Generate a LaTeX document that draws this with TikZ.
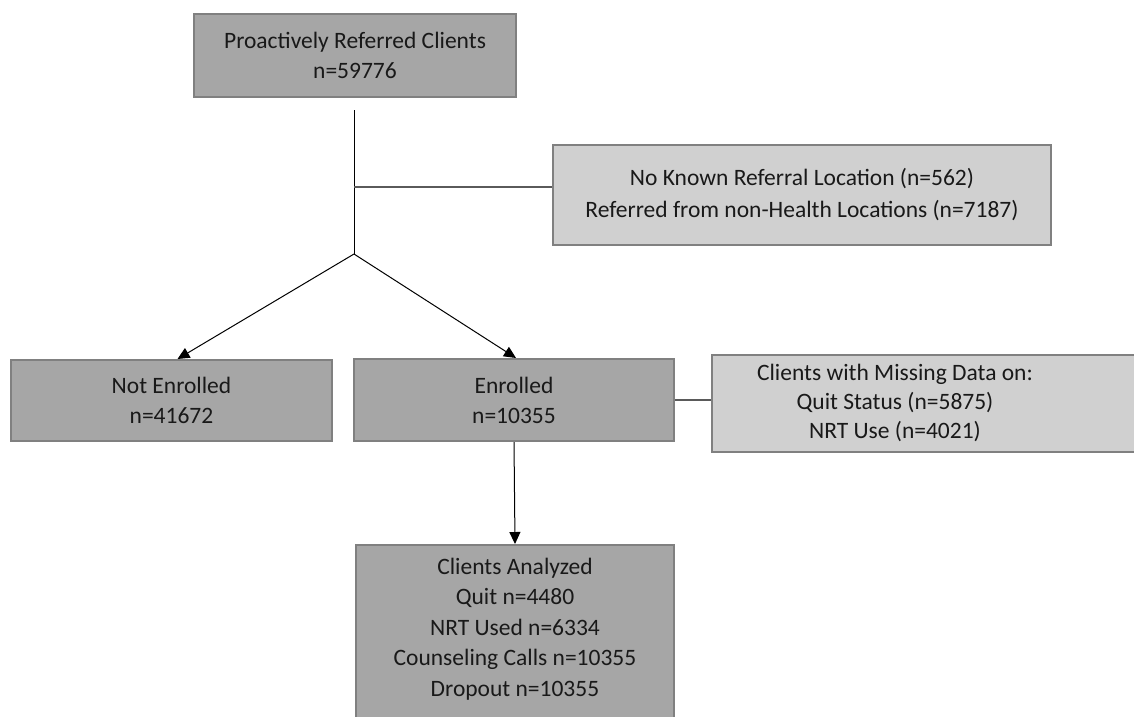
\documentclass[tikz,border=0pt]{standalone}
\usepackage{fontspec}
\setmainfont{Carlito}
\usetikzlibrary{arrows.meta,positioning}
\definecolor{boxdark}{HTML}{A6A6A6}
\definecolor{boxlight}{HTML}{D0D0D0}
\definecolor{boxedge}{HTML}{808080}
\definecolor{linkgray}{HTML}{5A5A5A}
\tikzset{>={Triangle[length=12pt,width=11pt]}}
\tikzset{
  boxtext/.style={align=center, text=black!90, font=\fontsize{23.5}{30}\selectfont},
  darkbox/.style={boxtext, draw=boxedge, line width=2pt, fill=boxdark, inner sep=0pt},
  lightbox/.style={darkbox, fill=boxlight},
  link/.style={line width=1pt, black},
  sideline/.style={line width=1.5pt, linkgray}
}

\begin{document}
\begin{tikzpicture}[x=1pt,y=-1pt]

\useasboundingbox (0,0) rectangle (1134,716);
\clip (0,0) rectangle (1134,716);

% Boxes
\node[darkbox, minimum width=322pt, minimum height=83pt] (referred) at (355,55.5) {Proactively Referred Clients\\n=59776};
\node[lightbox, minimum width=498pt, minimum height=100pt, font=\fontsize{23.5}{32}\selectfont] (excluded) at (802,195) {No Known Referral Location (n=562)\\Referred from non-Health Locations (n=7187)};
\node[darkbox, minimum width=321pt, minimum height=81pt] (notenrolled) at (171.5,400.5) {Not Enrolled\\n=41672};
\node[darkbox, minimum width=320pt, minimum height=82pt] (enrolled) at (514,400) {Enrolled\\n=10355};

% Missing data (runs off the page)
\node[lightbox, minimum width=480pt, minimum height=97pt, anchor=west] (missing) at (711,403.5) {};
\node[boxtext, font=\fontsize{23.5}{29}\selectfont] (missingtext) at (895,403) {Clients with Missing Data on:\\Quit Status (n=5875)\\NRT Use (n=4021)};

% Analyzed (runs off the page)
\node[darkbox, minimum width=318pt, minimum height=190pt, anchor=north] (analyzed) at (515,544) {};
\node[boxtext, font=\fontsize{23.5}{30.5}\selectfont] (analyzedtext) at (515,629) {Clients Analyzed\\Quit n=4480\\NRT Used n=6334\\Counseling Calls n=10355\\Dropout n=10355};

% Connectors
\coordinate (stem) at (354,110);
\coordinate (branch) at (354,187);
\coordinate (fork) at (354,254);
\draw[link] (stem) -- (fork);
\draw[sideline] (branch) -- (branch -| excluded.west);
\draw[link,->] (fork) -- ([xshift=6pt]notenrolled.north);
\draw[link,->] (fork) -- ([xshift=2pt]enrolled.north);
\draw[link,->] (enrolled.south) -- (analyzed.north);
\draw[sideline] (enrolled.east) -- (enrolled.east -| missing.west);

\end{tikzpicture}
\end{document}
